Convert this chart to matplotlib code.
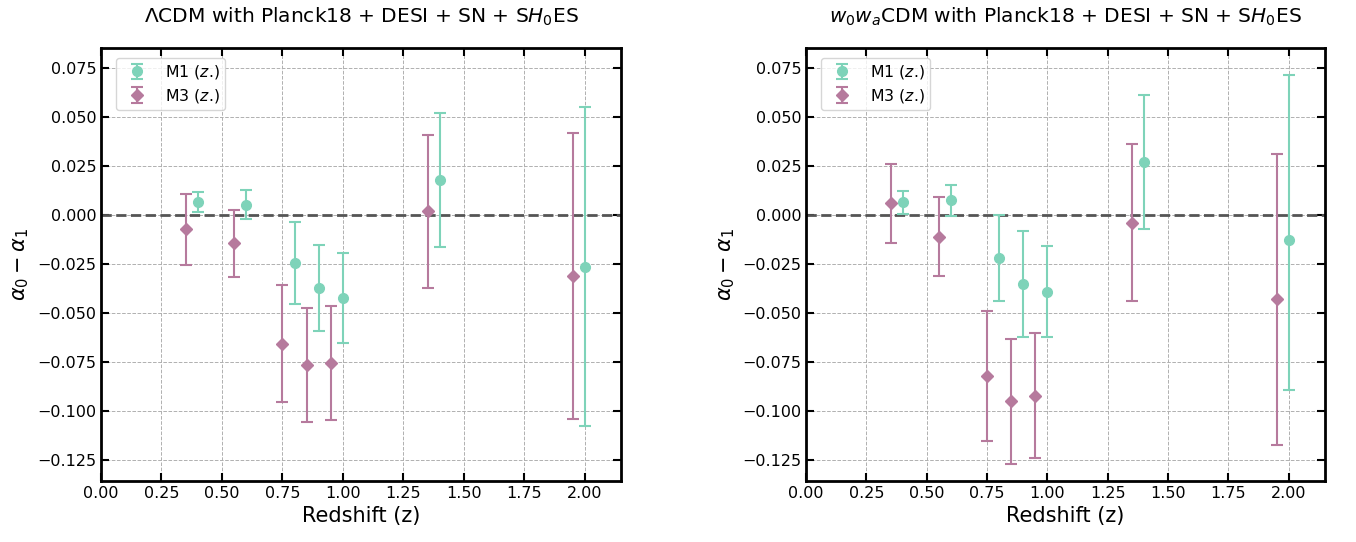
import numpy as np
import matplotlib.pyplot as plt

# redshift bins
z_m1 = [0.4, 0.6, 0.8, 0.9, 1.0, 1.4, 2.0]
z_m3 = [0.35, 0.55, 0.75, 0.85, 0.95, 1.35, 1.95]

# LCDM panel
lcdm_m1 = [0.0066, 0.0052, -0.0244, -0.0373, -0.0424, 0.0178, -0.0263]
lcdm_m1_lo = [0.005, 0.0075, 0.021, 0.022, 0.023, 0.034, 0.081]
lcdm_m1_hi = [0.005, 0.0075, 0.021, 0.022, 0.023, 0.034, 0.081]
lcdm_m3 = [-0.0073, -0.0144, -0.0655, -0.0765, -0.0753, 0.0018, -0.0311]
lcdm_m3_lo = [0.018, 0.017, 0.030, 0.029, 0.029, 0.039, 0.073]
lcdm_m3_hi = [0.018, 0.017, 0.030, 0.029, 0.029, 0.039, 0.073]

# w0wa panel
w0wa_m1 = [0.0064, 0.0074, -0.0220, -0.0350, -0.0390, 0.0268, -0.0130]
w0wa_m1_lo = [0.006, 0.008, 0.022, 0.027, 0.023, 0.034, 0.076]
w0wa_m1_hi = [0.006, 0.008, 0.022, 0.027, 0.023, 0.034, 0.084]
w0wa_m3 = [0.0059, -0.0110, -0.0820, -0.0950, -0.0920, -0.0040, -0.0430]
w0wa_m3_lo = [0.020, 0.020, 0.033, 0.032, 0.032, 0.040, 0.074]
w0wa_m3_hi = [0.020, 0.020, 0.033, 0.032, 0.032, 0.040, 0.074]

titles = [r'$\Lambda$CDM with Planck18 + DESI + SN + S$H_0$ES',
          r'$w_0w_a$CDM with Planck18 + DESI + SN + S$H_0$ES']

c_m1 = '#7ed3b9'
c_m3 = '#b67a9d'

fig = plt.figure(figsize=(13.56, 5.42), dpi=100)
ax1 = fig.add_axes([0.0745, 0.1125, 0.3835, 0.799])
ax2 = fig.add_axes([0.5945, 0.1125, 0.3825, 0.799])

panels = [(ax1, lcdm_m1, lcdm_m1_lo, lcdm_m1_hi, lcdm_m3, lcdm_m3_lo, lcdm_m3_hi, titles[0]),
          (ax2, w0wa_m1, w0wa_m1_lo, w0wa_m1_hi, w0wa_m3, w0wa_m3_lo, w0wa_m3_hi, titles[1])]

for ax, m1, m1lo, m1hi, m3, m3lo, m3hi, title in panels:
    ax.errorbar(z_m1, m1, yerr=[m1lo, m1hi], fmt='o', color=c_m1, ms=7, capsize=4,
                elinewidth=1.5, capthick=1.5, label='M1 ($z$.)', zorder=3)
    ax.errorbar(z_m3, m3, yerr=[m3lo, m3hi], fmt='D', color=c_m3, ms=6.5, capsize=4,
                elinewidth=1.5, capthick=1.5, label='M3 ($z$.)', zorder=3)
    ax.axhline(0, color='#555555', ls='--', lw=2, zorder=2)
    ax.set_xlim(0, 2.15)
    ax.set_ylim(-0.1355, 0.085)
    ax.set_xticks(np.arange(0, 2.01, 0.25))
    ax.set_yticks(np.arange(-0.125, 0.076, 0.025))
    ax.grid(True, ls='--', lw=0.7, color='#b0b0b0')
    ax.tick_params(direction='in', top=True, right=True, length=6, width=1.5,
                   labelsize=11.5)
    for s in ax.spines.values():
        s.set_linewidth(2)
    ax.set_xlabel('Redshift (z)', fontsize=15)
    ax.set_ylabel(r'$\alpha_0 - \alpha_1$', fontsize=15)
    ax.set_title(title, fontsize=14.5, pad=18)
    ax.legend(loc='upper left', bbox_to_anchor=(0.013, 0.995), fontsize=11.3,
              framealpha=0.8, borderpad=0.35, labelspacing=0.35)

fig.savefig('out.png', dpi=100)
